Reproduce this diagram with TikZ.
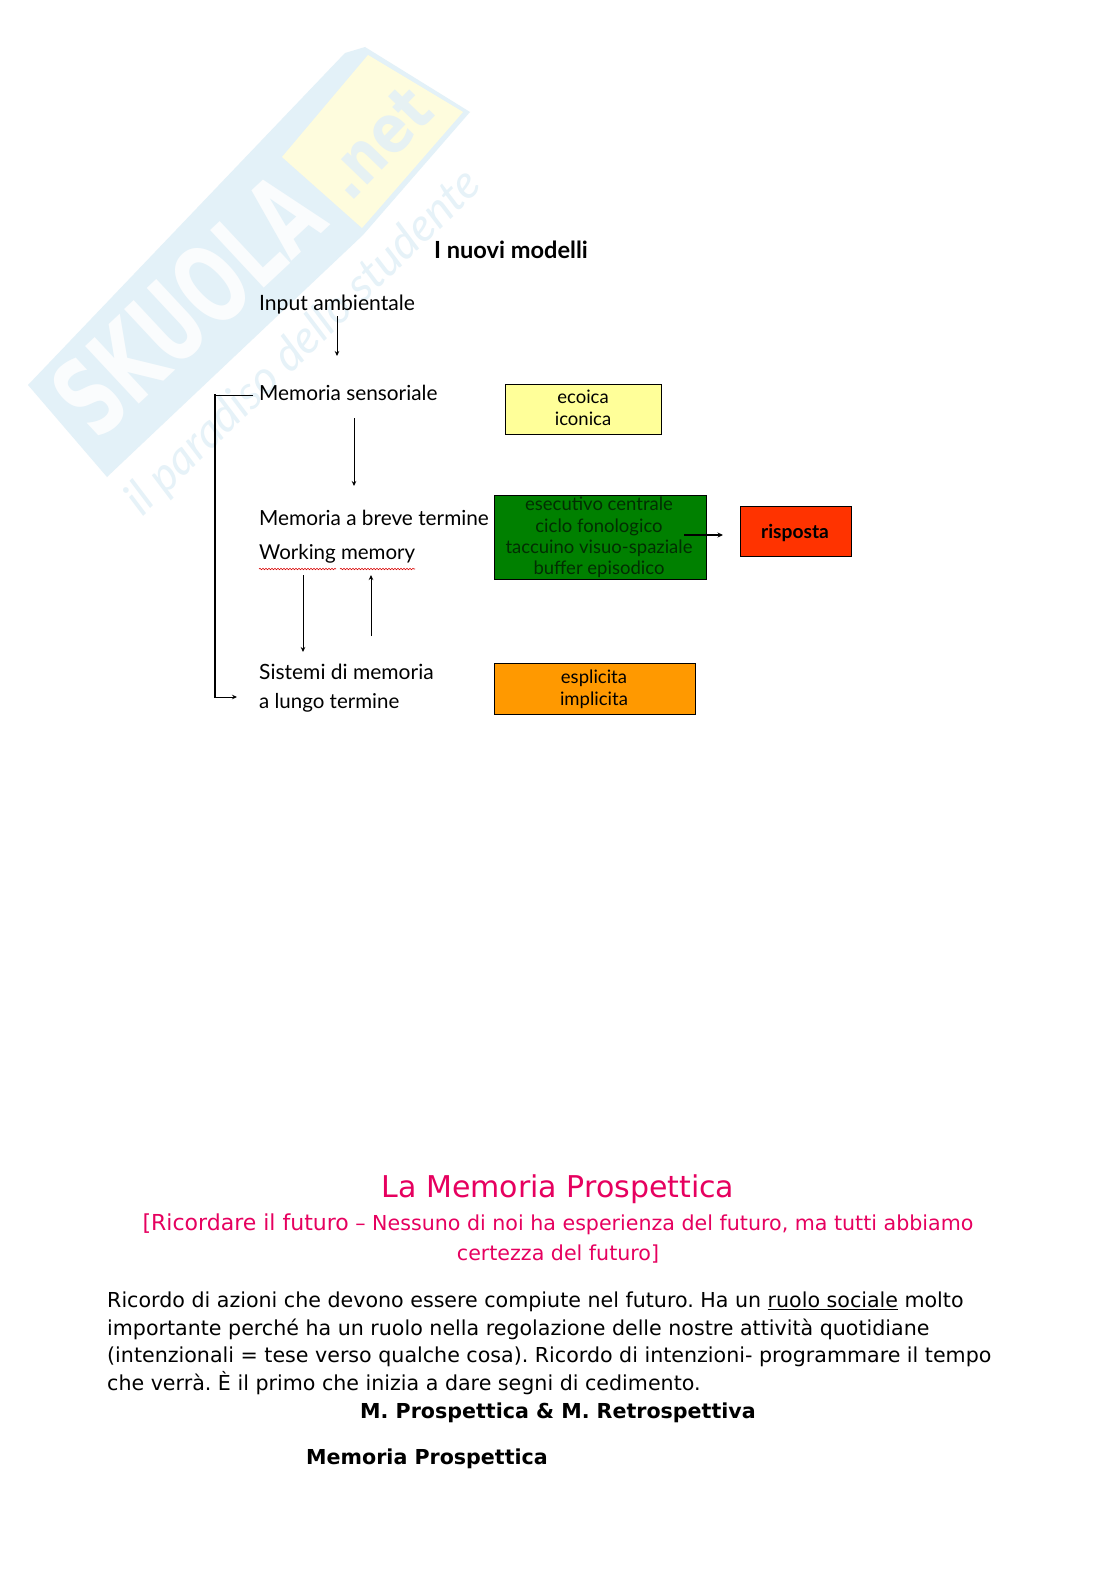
\documentclass[tikz,border=0pt]{standalone}
\usepackage{fontspec}
\setmainfont{DejaVu Sans}
\newfontfamily\comic{Lato}
\usetikzlibrary{arrows.meta,decorations.pathmorphing}
\frenchspacing
\definecolor{wmblue}{HTML}{E3F1F8}
\definecolor{wmyellow}{HTML}{FEFCDD}
\definecolor{wmtext}{HTML}{FAFCFD}
\definecolor{wmnet}{HTML}{E6F1F3}
\definecolor{wmscript}{HTML}{E6F2F8}
\definecolor{pinkhead}{HTML}{E6005F}
\definecolor{cyellow}{HTML}{FFFF99}
\definecolor{cgreen}{HTML}{008000}
\definecolor{cred}{HTML}{FF3300}
\definecolor{corange}{HTML}{FF9900}
\definecolor{greentext}{HTML}{022E02}
\tikzset{
  lab/.style={anchor=base west,inner sep=0pt,font=\comic\fontsize{20.8}{24}\selectfont},
  boxt/.style={anchor=base,inner sep=0pt,font=\comic\fontsize{18.5}{20}\selectfont},
  cbox/.style={draw=black,line width=0.9pt,inner sep=0pt,anchor=north west},
  conn/.style={line width=0.8pt,-{Stealth[length=5pt,width=4.5pt]}},
  wavy/.style={red!85!black,line width=0.6pt,decorate,decoration={snake,amplitude=0.7pt,segment length=3pt}},
  body/.style={anchor=base west,inner sep=0pt,font=\fontsize{20.6}{25}\selectfont},
  bodyb/.style={anchor=base,inner sep=0pt,font=\bfseries\fontsize{20.6}{25}\selectfont}
}
\begin{document}
\begin{tikzpicture}[x=1pt,y=-1pt]
\useasboundingbox (0,0) rectangle (1116,1579);
\fill[white] (0,0) rectangle (1116,1579);
% watermark
\fill[wmblue] (28,385) -- (345,53) -- (365,47) -- (470,112) -- (363,235) -- (107,477) -- cycle;
\fill[wmyellow] (282,157) -- (368,55) -- (463,112) -- (362,228) -- cycle;
\node[rotate=43,text=wmtext,inner sep=0pt,font=\bfseries\fontsize{108}{110}\selectfont] (wm) at (188,305) {\scalebox{0.65}[1]{SKUOLA}};
\node[rotate=46,text=wmnet,inner sep=0pt,font=\bfseries\fontsize{67}{70}\selectfont] (wn) at (377,143) {\scalebox{0.83}[1]{.net}};
\node[rotate=44,text=wmscript,inner sep=0pt,font=\comic\itshape\fontsize{46}{48}\selectfont] (ws) at (304,343) {il paradiso dello studente};
% diagram
\node[anchor=base,inner sep=0pt,font=\comic\bfseries\fontsize{23.6}{26}\selectfont] (title) at (511,258) {I nuovi modelli};
\node[lab,font=\comic\fontsize{21.1}{24}\selectfont] (input) at (259,310) {Input ambientale};
\node[lab] (sens) at (259,400) {Memoria sensoriale};
\node[lab] (breve) at (259,525) {Memoria a breve termine};
\node[lab,font=\comic\fontsize{20.5}{24}\selectfont] (wm1) at (259,559) {Working memory};
\node[lab,font=\comic\fontsize{21}{24}\selectfont] (sist) at (259,679) {Sistemi di memoria};
\node[lab,font=\comic\fontsize{20.5}{24}\selectfont] (lungo) at (259,708) {a lungo termine};
\draw[wavy] (259,569) -- (336,569);
\draw[wavy] (340,569) -- (415,569);
% boxes
\node[cbox,fill=cyellow,minimum width=156pt,minimum height=50pt] (b1) at (505,384) {};
\node[boxt] (b1a) at (583,403) {ecoica};
\node[boxt] (b1b) at (583,425) {iconica};
\node[cbox,fill=cgreen,minimum width=212pt,minimum height=84pt] (b2) at (494,495) {};
\node[boxt,text=greentext] (b2a) at (599,510) {esecutivo centrale};
\node[boxt,text=greentext] (b2b) at (599,532) {ciclo fonologico};
\node[boxt,text=greentext] (b2c) at (599,553) {taccuino visuo-spaziale};
\node[boxt,text=greentext] (b2d) at (599,574) {buffer episodico};
\node[cbox,fill=cred,minimum width=111pt,minimum height=50pt] (b3) at (740,506) {};
\node[boxt,font=\comic\bfseries\fontsize{19.2}{20}\selectfont] (b3a) at (795,538) {risposta};
\node[cbox,fill=corange,minimum width=201pt,minimum height=50.5pt] (b4) at (494,663) {};
\node[boxt] (b4a) at (594,683) {esplicita};
\node[boxt] (b4b) at (594,705) {implicita};
% connectors
\coordinate (c1a) at (337,316);
\coordinate (c1b) at (337,356);
\coordinate (c2a) at (354,418);
\coordinate (c2b) at (354,486);
\coordinate (c5a) at (371,636);
\coordinate (c5b) at (371,575);
\coordinate (c6a) at (303,575);
\coordinate (c6b) at (303,652);
\coordinate (c7a) at (684,535);
\coordinate (c7b) at (723,535);
\coordinate (l1) at (253,395);
\coordinate (l2) at (215,395);
\coordinate (l3) at (215,697);
\coordinate (l4) at (237,697);
\draw[conn] (c1a) -- (c1b);
\draw[conn] (c2a) -- (c2b);
\draw[conn] (c6a) -- (c6b);
\draw[conn] (c5a) -- (c5b);
\draw[line width=1.1pt,-{Stealth[length=5.5pt,width=5pt]}] (c7a) -- (c7b);
\draw[line width=0.9pt] (l1) -- (l2);
\draw[line width=1.4pt,line cap=rect] (l2) -- (l3);
\draw[line width=1pt,-{Stealth[length=5pt,width=4.5pt]}] (l3) -- (l4);
% text
\node[anchor=base,inner sep=0pt,text=pinkhead,font=\fontsize{30}{34}\selectfont] (h1) at (558,1197) {La Memoria Prospettica};
\node[anchor=base,inner sep=0pt,text=pinkhead,font=\fontsize{20.6}{25}\selectfont] (h2) at (558,1230) {{\fontsize{22}{25}\selectfont [Ricordare il futuro} – Nessuno di noi ha esperienza del futuro, ma tutti abbiamo};
\node[anchor=base,inner sep=0pt,text=pinkhead,font=\fontsize{20.6}{25}\selectfont] (h3) at (558,1260) {certezza del futuro]};
\node[body] (p1) at (107,1307) {Ricordo di azioni che devono essere compiute nel futuro. Ha un \underline{ruolo sociale} molto};
\node[body] (p2) at (107,1335) {importante perché ha un ruolo nella regolazione delle nostre attività quotidiane};
\node[body] (p3) at (107,1362) {(intenzionali = tese verso qualche cosa). Ricordo di intenzioni- programmare il tempo};
\node[body] (p4) at (107,1390) {che verrà. È il primo che inizia a dare segni di cedimento.};
\node[bodyb] (s1) at (558,1418) {M. Prospettica \& M. Retrospettiva};
\node[bodyb,anchor=base west] (s2) at (306,1464) {Memoria Prospettica};
\end{tikzpicture}
\end{document}
